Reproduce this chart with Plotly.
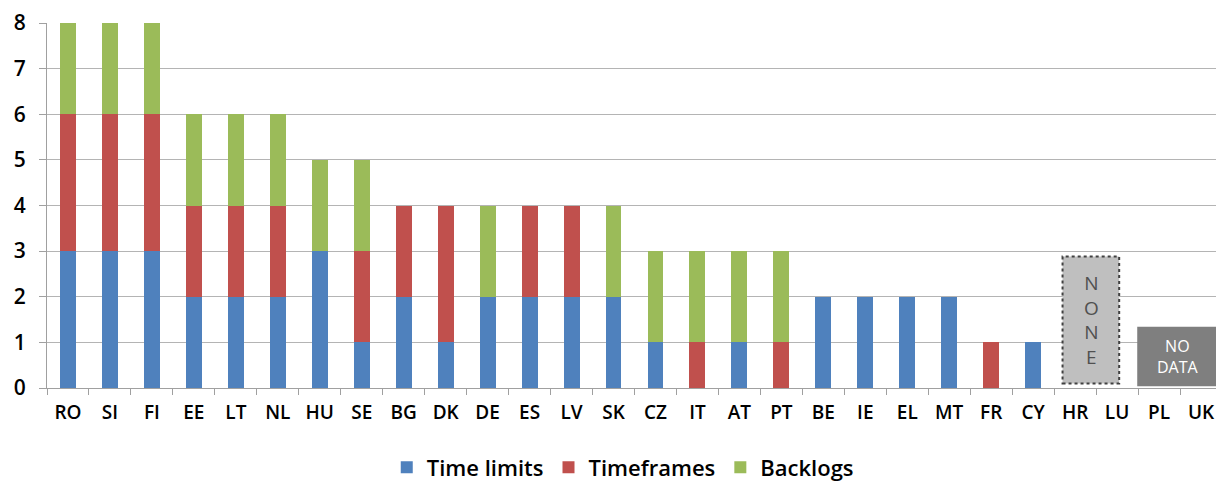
import plotly.graph_objects as go

countries = ["RO","SI","FI","EE","LT","NL","HU","SE","BG","DK","DE","ES","LV","SK",
             "CZ","IT","AT","PT","BE","IE","EL","MT","FR","CY","HR","LU","PL","UK"]
time_limits = [3,3,3,2,2,2,3,1,2,1,2,2,2,2,1,0,1,0,2,2,2,2,0,1,0,0,0,0]
timeframes  = [3,3,3,2,2,2,0,2,2,3,0,2,2,0,0,1,0,1,0,0,0,0,1,0,0,0,0,0]
backlogs    = [2,2,2,2,2,2,2,2,0,0,2,0,0,2,2,2,2,2,0,0,0,0,0,0,0,0,0,0]

series = [("Time limits", time_limits, "#4F81BD"),
          ("Timeframes", timeframes, "#C0504D"),
          ("Backlogs", backlogs, "#9BBB59")]

FONT = "Open Sans"
fig = go.Figure()
for name, vals, col in series:
    fig.add_trace(go.Bar(x=countries, y=vals, name=name, marker_color=col,
                         marker_line_width=0))

fig.update_layout(
    barmode="stack", bargap=0.62,
    width=1216, height=474,
    margin=dict(l=39, r=2, t=15, b=94, autoexpand=False),
    plot_bgcolor="white", paper_bgcolor="white",
    font=dict(family=FONT, color="black", weight=600),
    legend=dict(orientation="h", x=0.49, xanchor="center", y=-0.16, yanchor="top",
                font=dict(size=22, family=FONT, weight=600), itemwidth=30,
                traceorder="normal"),
    showlegend=True,
)
fig.update_xaxes(tickson="boundaries", ticks="outside", ticklen=6, tickcolor="#a0a0a0",
                 showline=True, linecolor="#a0a0a0", linewidth=1, ticklabelstandoff=7,
                 tickfont=dict(size=19, family=FONT, weight=600), range=[-0.5, 27.5])
fig.update_yaxes(range=[0, 8], dtick=1, showgrid=True, gridcolor="#b4b4b4", gridwidth=1,
                 ticks="outside", ticklen=7, tickcolor="#a0a0a0", ticklabelstandoff=9,
                 showline=True, linecolor="#a0a0a0", linewidth=1, ticklabeloverflow="allow",
                 tickfont=dict(size=21, family=FONT, weight=600), zeroline=False)

# NONE box over HR/LU
fig.add_shape(type="rect", xref="x", yref="y", x0=23.7, x1=25.05, y0=0.1, y1=2.88,
              fillcolor="#BFBFBF", line=dict(color="#404040", width=2, dash="dot"), layer="above")
fig.add_annotation(x=24.38, y=1.49, xref="x", yref="y", text="N<br>O<br>N<br>E",
                   showarrow=False, font=dict(size=19, color="#505050", family=FONT, weight=400))
# NO DATA box over PL/UK
fig.add_shape(type="rect", xref="x", yref="y", x0=25.48, x1=27.42, y0=0.04, y1=1.34,
              fillcolor="#7F7F7F", line=dict(width=0), layer="above")
fig.add_annotation(x=26.45, y=0.69, xref="x", yref="y", text="NO<br>DATA",
                   showarrow=False, font=dict(size=16, color="white", family=FONT, weight=400))

fig.write_html("out.html")
